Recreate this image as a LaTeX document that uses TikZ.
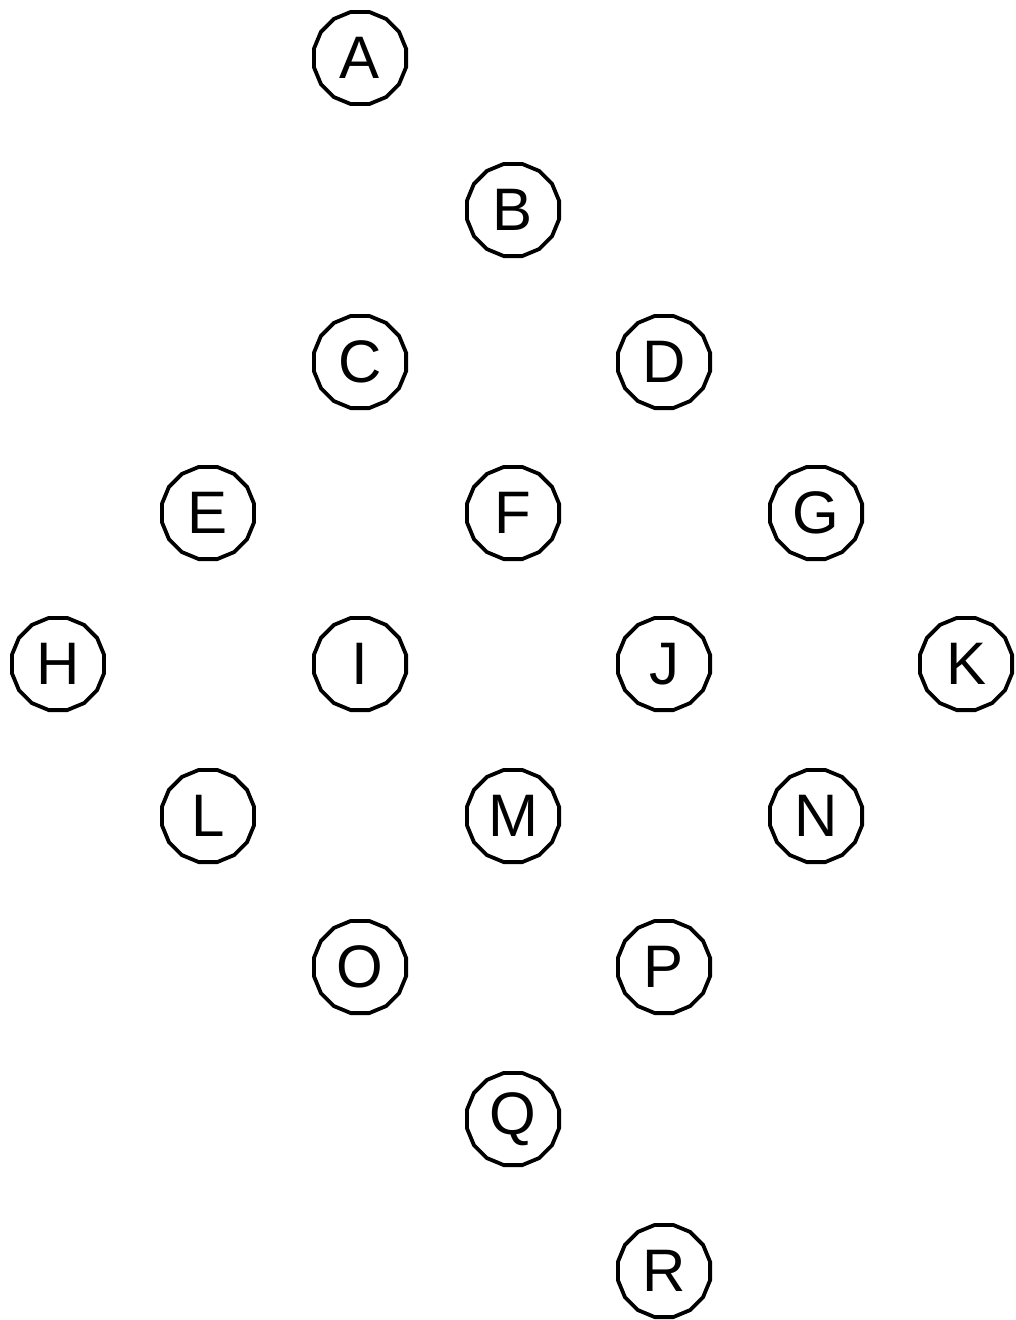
\documentclass[tikz,border=0pt]{standalone}
\usepackage{fontspec}
\setmainfont{Liberation Sans}
\usetikzlibrary{shapes.geometric}
\begin{document}
\begin{tikzpicture}[x=1pt,y=-1pt,
  vert/.style={regular polygon, regular polygon sides=16, draw=black, line width=3.8pt,
    minimum size=94pt, inner sep=0pt, font=\fontsize{60}{60}\selectfont}]
\useasboundingbox (0,0) rectangle (1016,1320);
\node[vert] (A) at (360,58) {A};
\node[vert] (B) at (513,210) {B};
\node[vert] (C) at (360,362) {C};
\node[vert] (D) at (664,362) {D};
\node[vert] (E) at (208,513) {E};
\node[vert] (F) at (513,513) {F};
\node[vert] (G) at (816,513) {G};
\node[vert] (H) at (58,664) {H};
\node[vert] (I) at (360,664) {I};
\node[vert] (J) at (664,664) {J};
\node[vert] (K) at (966,664) {K};
\node[vert] (L) at (208,816) {L};
\node[vert] (M) at (513,816) {M};
\node[vert] (N) at (816,816) {N};
\node[vert] (O) at (360,967) {O};
\node[vert] (P) at (664,967) {P};
\node[vert] (Q) at (513,1119) {Q};
\node[vert] (R) at (664,1271) {R};
\end{tikzpicture}
\end{document}
